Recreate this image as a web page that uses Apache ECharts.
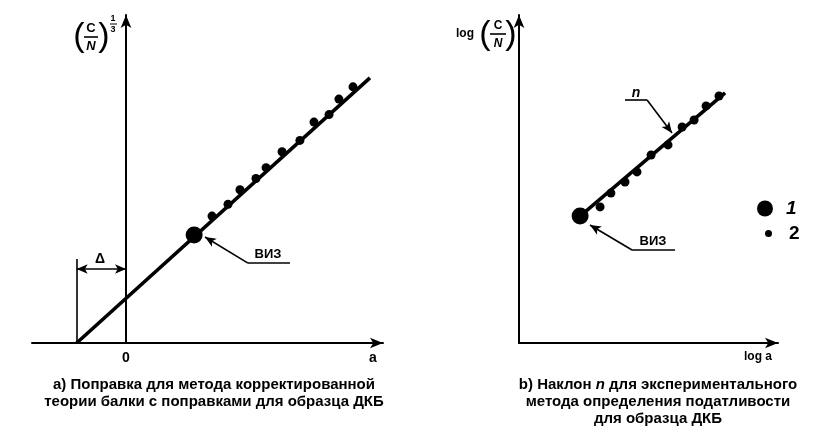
<!DOCTYPE html>
<html><head><meta charset="utf-8">
<script src="https://cdn.jsdelivr.net/npm/echarts@6/dist/echarts.min.js"></script>
<style>html,body{margin:0;padding:0;background:#fff}#c{width:813px;height:439px}</style>
</head><body><div id="c"></div><script>
// ---- data (arbitrary linear units) ----
const leftFit = [[-2.1, 0], [10.38, 11.28]];
const leftBig = [[2.9, 4.6]];
const leftSmall = [[3.66,5.40],[4.34,5.90],[4.85,6.52],[5.53,7.0],[5.96,7.46],[6.64,8.14],[7.40,8.62],[8.00,9.40],[8.64,9.72],[9.06,10.38],[9.66,10.90]];
const deltaX = -2.1, deltaTop = 3.57, deltaBar = 3.15;
const rightFit = [[2.6, 5.40], [8.77, 10.64]];
const rightBig = [[2.6, 5.40]];
const rightSmall = [[3.45,5.79],[3.91,6.38],[4.51,6.85],[5.02,7.28],[5.62,8.0],[6.34,8.43],[6.94,9.19],[7.45,9.49],[7.96,10.09],[8.51,10.51]];
const leftVIZ = {tip:[3.36,4.51], bend:[5.19,3.40], end:[6.98,3.40]};
const rightVIZ = {tip:[3.02,5.02], bend:[4.81,3.96], end:[6.64,3.96]};
const rightN = {tip:[6.51,8.94], bend:[5.45,10.34], end:[4.51,10.34]};
const xTickLabels = {0:'0'};

const F = '"Liberation Sans", Arial, sans-serif';
const chart = echarts.init(document.getElementById('c'));

function axis(o){
  return Object.assign({
    type:'value',
    axisLine:{show:true,onZero:true,symbol:['none','arrow'],symbolSize:[8,13],lineStyle:{color:'#000',width:2}},
    axisTick:{show:false}, splitLine:{show:false}, axisLabel:{show:false}
  }, o);
}
function seg(a,b,arrowEnd,arrowStart){
  return [{coord:a, symbol: arrowStart?'arrow':'none', symbolSize:[7,11]},
          {coord:b, symbol: arrowEnd?'arrow':'none', symbolSize:[7,11]}];
}
const mlBase = {silent:true, label:{show:false}, animation:false,
  lineStyle:{type:'solid', color:'#000', width:1.6, opacity:1}, itemStyle:{color:'#000', opacity:1}, emphasis:{disabled:true}};
const dot = {color:'#000', opacity:1};

const option = {
  animation:false,
  backgroundColor:'#fff',
  textStyle:{fontFamily:F},
  grid:[
    {left:32, top:15, width:351, height:328, containLabel:false, outerBoundsMode:'none'},
    {left:519, top:15, width:259, height:328, containLabel:false, outerBoundsMode:'none'}
  ],
  xAxis:[
    axis({gridIndex:0, min:-4, max:10.936, interval:1,
      name:'a', nameLocation:'end', nameGap:-10,
      nameTextStyle:{color:'#000', fontWeight:'bold', fontSize:14, align:'center', verticalAlign:'top', padding:[8,0,0,0]},
      axisLabel:{show:true, color:'#000', fontWeight:'bold', fontSize:14, margin:8,
        formatter:v => xTickLabels[v] !== undefined ? xTickLabels[v] : ''}}),
    axis({gridIndex:1, min:0, max:11.02,
      name:'log a', nameLocation:'end', nameGap:-20,
      nameTextStyle:{color:'#000', fontWeight:'bold', fontSize:12, align:'center', verticalAlign:'top', padding:[8,0,0,0]}})
  ],
  yAxis:[
    axis({gridIndex:0, min:0, max:13.957}),
    axis({gridIndex:1, min:0, max:13.957})
  ],
  legend:[
    {data:[{name:'1', icon:'circle', itemStyle:dot}], left:757, top:199, padding:0, itemWidth:16, itemHeight:16, selectedMode:false,
     textStyle:{fontSize:19, fontWeight:'bold', fontStyle:'italic', color:'#000', padding:[0,0,0,8]}},
    {data:[{name:'2', icon:'circle', itemStyle:dot}], left:765, top:224, padding:0, itemWidth:7, itemHeight:7, selectedMode:false,
     textStyle:{fontSize:19, fontWeight:'bold', color:'#000', padding:[0,0,0,12]}}
  ],
  title:[
    {text:'а) Поправка для метода корректированной\nтеории балки с поправками для образца ДКБ',
     left:214, top:376, textAlign:'center', padding:0,
     textStyle:{fontSize:15, fontWeight:'bold', color:'#000', lineHeight:17, fontFamily:F}},
    {text:'b) Наклон {i|n} для экспериментального\nметода определения податливости\nдля образца ДКБ',
     left:658, top:376, textAlign:'center', padding:0,
     textStyle:{fontSize:15, fontWeight:'bold', color:'#000', lineHeight:17, fontFamily:F,
       rich:{i:{fontStyle:'italic', fontWeight:'bold', fontSize:15, color:'#000'}}}}
  ],
  series:[
    {type:'line', name:'fitL', xAxisIndex:0, yAxisIndex:0, data:leftFit, showSymbol:false, symbol:'none',
     lineStyle:{color:'#000', width:3.6}, silent:true, z:3,
     markLine:Object.assign({}, mlBase, {data:[
       seg([deltaX,0],[deltaX,deltaTop]),
       seg([deltaX,deltaBar],[0,deltaBar],true,true),
       seg(leftVIZ.end, leftVIZ.bend),
       seg(leftVIZ.bend, leftVIZ.tip, true)
     ]})},
    {type:'scatter', name:'1', xAxisIndex:0, yAxisIndex:0, data:leftBig, symbol:'circle', symbolSize:17,
     itemStyle:dot, z:5},
    {type:'scatter', name:'2', xAxisIndex:0, yAxisIndex:0, data:leftSmall, symbol:'circle', symbolSize:9,
     itemStyle:dot, z:4},
    {type:'line', name:'fitR', xAxisIndex:1, yAxisIndex:1, data:rightFit, showSymbol:false, symbol:'none',
     lineStyle:{color:'#000', width:3.6}, silent:true, z:3,
     markLine:Object.assign({}, mlBase, {data:[
       seg(rightVIZ.end, rightVIZ.bend),
       seg(rightVIZ.bend, rightVIZ.tip, true),
       seg(rightN.end, rightN.bend),
       seg(rightN.bend, rightN.tip, true)
     ]})},
    {type:'scatter', name:'1', xAxisIndex:1, yAxisIndex:1, data:rightBig, symbol:'circle', symbolSize:17,
     itemStyle:dot, z:5},
    {type:'scatter', name:'2', xAxisIndex:1, yAxisIndex:1, data:rightSmall, symbol:'circle', symbolSize:9,
     itemStyle:dot, z:4}
  ]
};
chart.setOption(option);

function txt(t, x, y, size, opts){
  return {type:'text', silent:true, z:10, style:Object.assign({text:t, x:x, y:y, fill:'#000',
    font:(opts&&opts.font)||('bold '+size+'px '+F), align:'center', verticalAlign:'middle',
    textAlign:'center', textVerticalAlign:'middle'}, opts||{})};
}
function hline(x1,x2,y,w){ return {type:'line', silent:true, z:10, shape:{x1:x1,y1:y,x2:x2,y2:y}, style:{stroke:'#000', lineWidth:w||1.5}}; }

chart.setOption({graphic:[
  // left axis title (C/N)^(1/3)
  txt('(', 79, 37, 34, {font:'34px '+F}),
  txt('C', 91, 28, 13),
  hline(84, 98, 37, 1.6),
  txt('N', 91, 46, 13, {font:'italic bold 13px '+F}),
  txt(')', 104, 37, 34, {font:'34px '+F}),
  txt('1', 113, 19, 9),
  hline(110, 117, 24, 1),
  txt('3', 113, 30, 9),
  // right axis title log(C/N)
  txt('log', 465, 34, 12),
  txt('(', 485, 35, 34, {font:'34px '+F}),
  txt('C', 498, 26, 12),
  hline(490, 506, 34, 1.6),
  txt('N', 498, 44, 12, {font:'italic bold 12px '+F}),
  txt(')', 511, 35, 34, {font:'34px '+F}),
  // annotations
  txt('Δ', 100, 259, 14),
  txt('ВИЗ', 268, 254, 13),
  txt('ВИЗ', 653, 241, 13),
  txt('n', 636, 93, 14, {font:'italic bold 14px '+F})
]});
</script></body></html>
